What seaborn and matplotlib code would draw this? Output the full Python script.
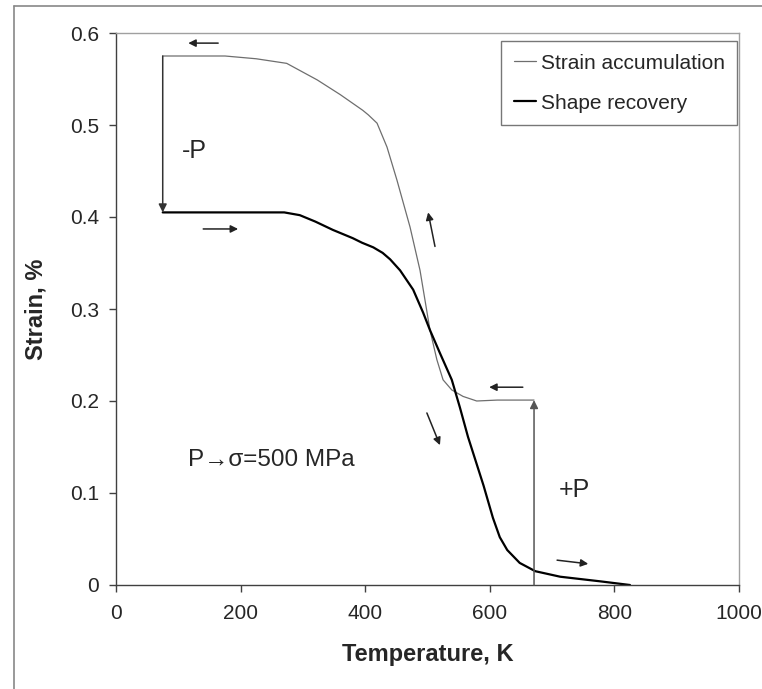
import numpy as np
import pandas as pd
import seaborn as sns
import matplotlib.pyplot as plt
from matplotlib.lines import Line2D

# strain accumulation (thin grey), read right to left
accum_T = [671, 612, 579, 557, 539, 525, 515, 504, 488, 472, 451, 435, 419,
           405, 396, 360, 323, 274, 225, 175, 75]
accum_strain = [0.201, 0.201, 0.200, 0.205, 0.212, 0.223, 0.245, 0.277, 0.342,
                0.389, 0.440, 0.476, 0.502, 0.511, 0.516, 0.533, 0.549, 0.567,
                0.572, 0.575, 0.575]

# shape recovery (thick black)
recov_T = [75, 160, 244, 270, 295, 320, 348, 380, 395, 413, 428, 440, 456, 477,
           493, 504, 520, 539, 552, 565, 590, 605, 616, 628, 648, 673, 713, 777,
           825]
recov_strain = [0.405, 0.405, 0.405, 0.405, 0.402, 0.395, 0.386, 0.377, 0.372,
                0.367, 0.361, 0.354, 0.342, 0.321, 0.296, 0.277, 0.252, 0.223,
                0.193, 0.161, 0.108, 0.073, 0.052, 0.038, 0.024, 0.015, 0.009,
                0.004, 0.0]

# load steps (vertical arrows): (T, strain from, strain to)
minus_p = (75, 0.575, 0.405)
plus_p = (671, 0.0, 0.201)

# direction arrows: (T0, s0, T1, s1)
dir_arrows = [
    (164, 0.589, 116, 0.589),
    (140, 0.387, 196, 0.387),
    (512, 0.368, 501, 0.405),
    (653, 0.215, 599, 0.215),
    (499, 0.187, 520, 0.152),
    (708, 0.027, 758, 0.023),
]

xticks = [0, 200, 400, 600, 800, 1000]
yticks = [0, 0.1, 0.2, 0.3, 0.4, 0.5, 0.6]
ytick_labels = ["0", "0.1", "0.2", "0.3", "0.4", "0.5", "0.6"]

sns.set_style("white")
plt.rcParams['font.family'] = ['Liberation Sans', 'DejaVu Sans']

df_acc = pd.DataFrame({"T": accum_T, "strain": accum_strain})
df_rec = pd.DataFrame({"T": recov_T, "strain": recov_strain})

fig = plt.figure(figsize=(7.62, 6.89), dpi=100)
ax = fig.add_axes([116 / 762, 1 - 585 / 689, (739 - 116) / 762, (585 - 33) / 689])

sns.lineplot(data=df_acc, x="T", y="strain", sort=False, estimator=None,
             color="#6e6e6e", linewidth=0.9, label="Strain accumulation", ax=ax)
sns.lineplot(data=df_rec, x="T", y="strain", sort=False, estimator=None,
             color="black", linewidth=1.6, label="Shape recovery", ax=ax)

# load steps
ax.annotate("", xy=(minus_p[0], minus_p[2]), xytext=(minus_p[0], minus_p[1]),
            arrowprops=dict(arrowstyle="-|>", color="#333333", lw=1.1,
                            mutation_scale=12, shrinkA=0, shrinkB=0))
ax.annotate("", xy=(plus_p[0], plus_p[2]), xytext=(plus_p[0], plus_p[1]),
            arrowprops=dict(arrowstyle="-|>", color="#555555", lw=1.1,
                            mutation_scale=12, shrinkA=0, shrinkB=0))

for t0, s0, t1, s1 in dir_arrows:
    ax.annotate("", xy=(t1, s1), xytext=(t0, s0),
                arrowprops=dict(arrowstyle="-|>", color="#222222", lw=1.1,
                                mutation_scale=11, shrinkA=0, shrinkB=0))

ax.text(106, 0.472, "-P", fontsize=18, va="center", ha="left")
ax.text(711, 0.103, "+P", fontsize=18, va="center", ha="left")
ax.text(116, 0.136, "P\u2192\u03c3=500 MPa", fontsize=17.5, va="center", ha="left")

ax.set_xlim(0, 1000)
ax.set_ylim(0, 0.6)
ax.set_xticks(xticks)
ax.set_yticks(yticks)
ax.set_yticklabels(ytick_labels)
ax.tick_params(axis="both", labelsize=15, direction="out", length=5, width=1,
               color="#404040", left=True, bottom=True)
ax.tick_params(axis="y", pad=7)
ax.tick_params(axis="x", pad=9)

ax.set_xlabel("Temperature, K", fontsize=17, fontweight="bold", labelpad=14)
ax.set_ylabel("Strain, %", fontsize=17, fontweight="bold", labelpad=16)

for side in ["left", "bottom"]:
    ax.spines[side].set_color("#404040")
    ax.spines[side].set_linewidth(1.0)
for side in ["top", "right"]:
    ax.spines[side].set_color("#a0a0a0")
    ax.spines[side].set_linewidth(1.0)

leg = ax.legend(loc="upper right", bbox_to_anchor=(0.997, 0.985), fontsize=15,
                frameon=True, fancybox=False, handlelength=1.1,
                handletextpad=0.2, labelspacing=1.0, borderpad=0.6,
                borderaxespad=0.0)
leg.get_frame().set_edgecolor("#555555")
leg.get_frame().set_linewidth(1.0)

# outer chart frame (left and top edges)
fig.add_artist(Line2D([14 / 762, 14 / 762], [0, 1 - 6 / 689], color="#888888", lw=1.2))
fig.add_artist(Line2D([14 / 762, 1], [1 - 6 / 689, 1 - 6 / 689], color="#888888", lw=1.2))

fig.savefig("out.png", dpi=100)
